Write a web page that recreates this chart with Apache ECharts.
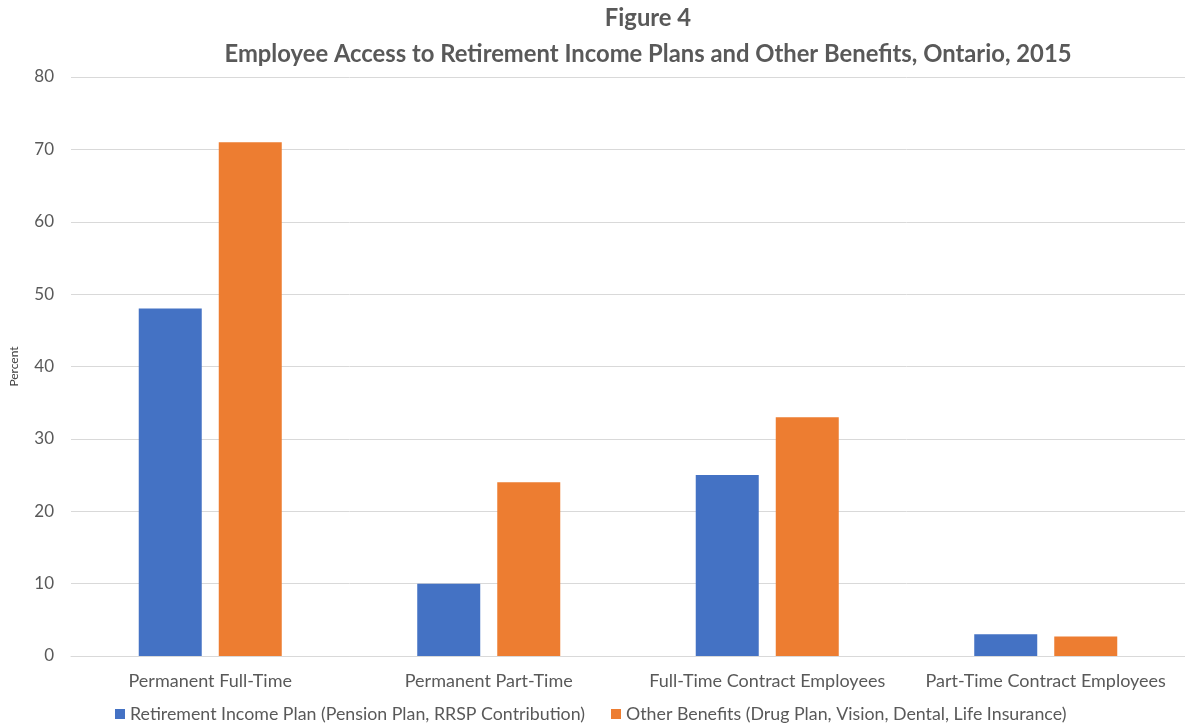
<!DOCTYPE html>
<html>
<head>
<meta charset="utf-8">
<script src="https://cdn.jsdelivr.net/npm/echarts@6/dist/echarts.min.js"></script>
<style>
  html, body { margin: 0; padding: 0; background: #fff; }
  #chart { width: 1185px; height: 724px; }
</style>
</head>
<body>
<div id="chart"></div>
<script>
var categories = ["Permanent Full-Time", "Permanent Part-Time", "Full-Time Contract Employees", "Part-Time Contract Employees"];
var retirementValues = [48, 10, 25, 3];
var benefitValues = [71, 24, 33, 2.7];
var seriesNames = ["Retirement Income Plan (Pension Plan, RRSP Contribution)", "Other Benefits (Drug Plan, Vision, Dental, Life Insurance)"];

var textColor = '#595959';
var fontName = 'Lato, "Open Sans", sans-serif';

var myChart = echarts.init(document.getElementById("chart"));
var option = {
  animation: false,
  textStyle: { fontFamily: fontName },
  title: {
    text: "Figure 4\nEmployee Access to Retirement Income Plans and Other Benefits, Ontario, 2015",
    left: 643,
    textAlign: 'center',
    top: -5,
    textStyle: { fontSize: 23.8, fontWeight: 'bold', color: textColor, lineHeight: 36, fontFamily: fontName }
  },
  legend: {
    data: seriesNames,
    left: 110,
    bottom: -4,
    itemWidth: 10,
    itemHeight: 10,
    itemGap: 26,
    icon: 'rect',
    textStyle: { fontSize: 17.8, color: textColor, fontFamily: fontName }
  },
  grid: { left: 69, width: 1122, top: 77, bottom: 68, containLabel: false },
  xAxis: {
    type: "category",
    data: categories,
    axisLine: { lineStyle: { color: '#d9d9d9', width: 1 } },
    axisTick: { show: false },
    axisLabel: { interval: 0, fontSize: 18, color: textColor, margin: 16, fontFamily: fontName }
  },
  yAxis: {
    type: "value",
    min: 0,
    max: 80,
    interval: 10,
    name: "Percent",
    nameLocation: 'middle',
    nameGap: 51,
    nameTextStyle: { fontSize: 12, color: '#404040', fontFamily: fontName },
    axisLine: { show: false },
    axisTick: { show: false },
    splitLine: { lineStyle: { color: '#d9d9d9', width: 1 } },
    axisLabel: { fontSize: 17, color: textColor, margin: 17, fontFamily: fontName }
  },
  series: [{
    name: seriesNames[0],
    type: "bar",
    barWidth: 63,
    barGap: '27%',
    itemStyle: { color: '#4472C4' },
    data: retirementValues
  }, {
    name: seriesNames[1],
    type: "bar",
    barWidth: 63,
    barGap: '27%',
    itemStyle: { color: '#ED7D31' },
    data: benefitValues
  }]
};
myChart.setOption(option);
</script>
</body>
</html>
